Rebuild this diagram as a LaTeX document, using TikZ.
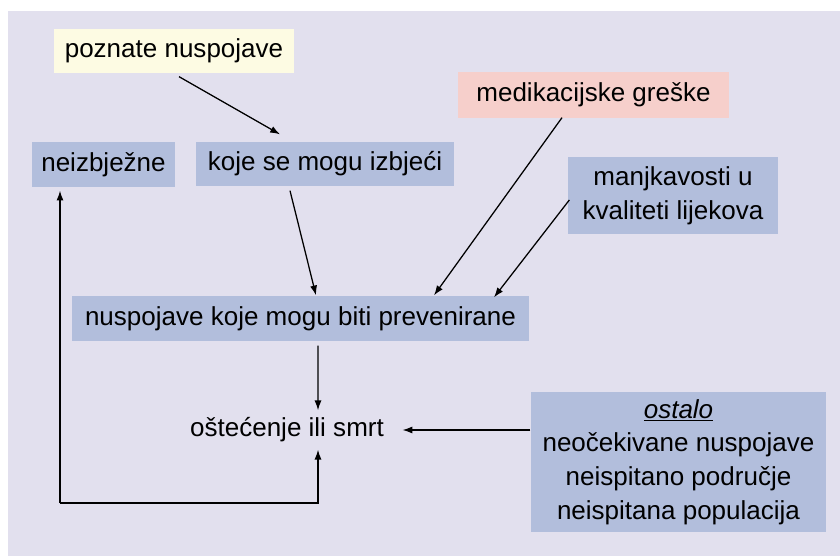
\documentclass[tikz,border=0pt]{standalone}
\usepackage{fontspec}
\setmainfont{Liberation Sans}
\usetikzlibrary{positioning,arrows.meta}
\tikzset{>={Latex[length=7pt,width=5pt]}}
\definecolor{bgcol}{HTML}{E2E0EE}
\definecolor{boxblue}{HTML}{B2BEDC}
\definecolor{boxyellow}{HTML}{FDFBE3}
\definecolor{boxpink}{HTML}{F6CFCB}
\tikzset{box/.style={fill=boxblue, inner sep=0pt, align=center, font=\fontsize{18.5}{24}\selectfont}}

\begin{document}
\begin{tikzpicture}[x=0.025cm,y=-0.025cm,line width=0.9pt]
      \useasboundingbox (0,0) rectangle (840,556);
      \fill[bgcol] (8,11) rectangle (840,556);
      \node[box,fill=boxyellow,minimum width=6cm,minimum height=1.1cm] (pozn) at (174,51) {poznate nuspojave};
      \node[box,minimum width=3.575cm,minimum height=1.125cm] (neiz) at (103.5,164.5) {neizbježne};
      \node[box,minimum width=6.45cm,minimum height=1.1cm] (koje) at (325,164) {koje se mogu izbjeći};
      \node[box,fill=boxpink,minimum width=6.775cm,minimum height=1.15cm] (med) at (593.5,95) {medikacijske greške};
      \node[box,minimum width=5.25cm,minimum height=1.925cm] (manj) at (673,195.5) {manjkavosti u\\kvaliteti lijekova};
      \node[box,minimum width=11.425cm,minimum height=1.125cm] (prev) at (300.5,318.5) {nuspojave koje mogu biti prevenirane};
      \node[box,fill=none,inner xsep=0.45cm,inner ysep=0.17cm] (stet) at (287,430) {oštećenje ili smrt};
      \node[box,minimum width=7.375cm,minimum height=3.5cm] (ost) at (678.5,462) {\underline{\itshape ostalo}\\neočekivane nuspojave\\neispitano područje\\neispitana populacija};
      \coordinate (c1) at (60,503);
      \coordinate (c2) at (318,503);
      \draw[->] ([shift={(5,3)}]pozn.south) -- ([shift={(-45,-7)}]koje.north);
      \draw[->] ([shift={(-35,4)}]koje.south) -- ([xshift=15.5*0.025cm]prev.north);
      \draw[->] ([shift={(-31.5,-1)}]med.south) -- ([xshift=133.5*0.025cm]prev.north);
      \draw[->] ([shift={(2,4.5)}]manj.west) -- ([shift={(193.5,2)}]prev.north);
      \draw[->] ([shift={(17.5,4)}]prev.south) -- ([xshift=31*0.025cm]stet.north);
      \draw[->] (ost.west |- stet) -- (stet.east);
      \draw[->] (c1) -- ([shift={(-43.5,3)}]neiz.south);
      \draw[->] (c1) -- (c2) -- (c2 |- stet.south);
    \end{tikzpicture}
\end{document}
